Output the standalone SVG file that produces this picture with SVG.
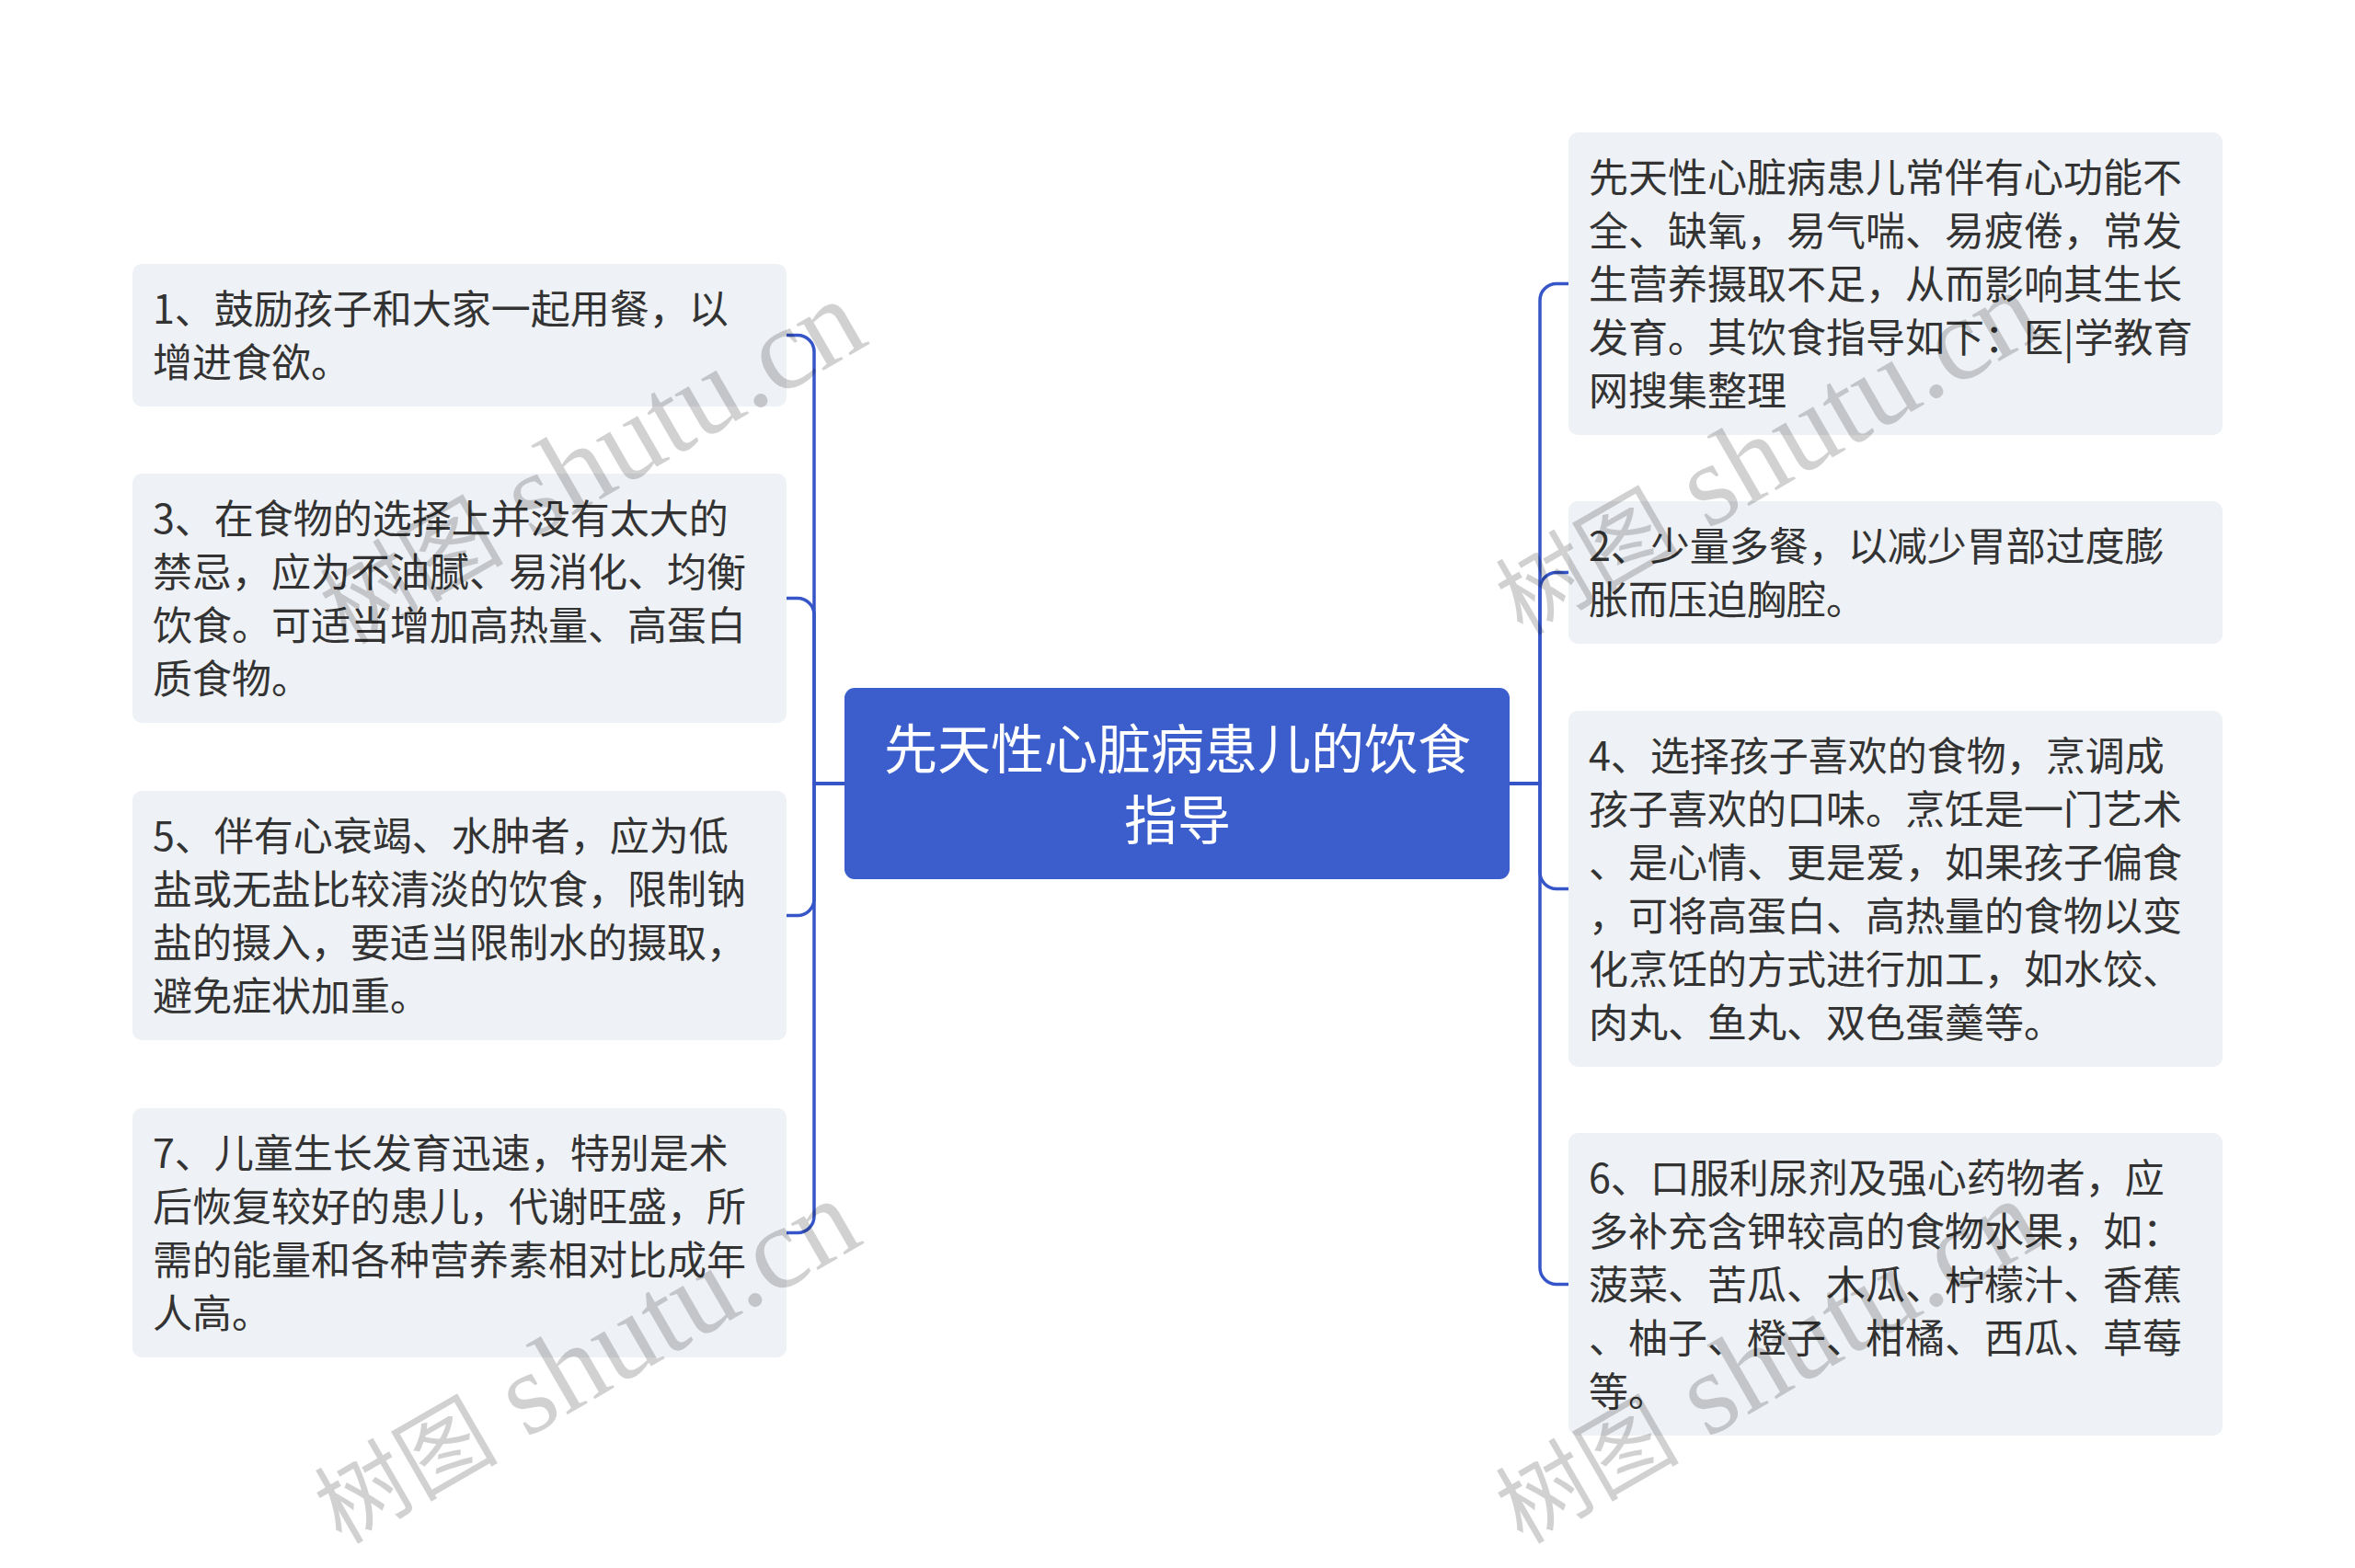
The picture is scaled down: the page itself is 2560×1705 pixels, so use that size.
<svg xmlns="http://www.w3.org/2000/svg" width="2560" height="1705" viewBox="0 0 2560 1705">
<style>
.bg{fill:#ffffff}
.node rect{fill:#eef1f5}
.node text{font-family:"Noto Sans CJK SC","Noto Sans",sans-serif;font-size:43px;fill:#333333}
.root rect{fill:#3b5ecc}
.root text{font-family:"Noto Sans CJK SC","Noto Sans",sans-serif;font-size:58px;fill:#ffffff;text-anchor:middle}
.conn path{fill:none;stroke:#3555c8;stroke-width:3.5}
.wm{font-family:"Liberation Serif","Noto Sans CJK SC",serif;font-size:127px;fill:#000000;fill-opacity:0.18}
.wm .cj{font-size:100px}
</style>
<rect class="bg" x="0" y="0" width="2560" height="1705"/>
<g id="connectors" class="conn">
<path d="M918,852 H885 V382.5 A18,18 0 0 0 867,364.5 H855"/>
<path d="M918,852 H885 V668.5 A18,18 0 0 0 867,650.5 H855"/>
<path d="M918,852 H885 V977.5 A18,18 0 0 1 867,995.5 H855"/>
<path d="M918,852 H885 V1322.5 A18,18 0 0 1 867,1340.5 H855"/>
<path d="M1641,852 H1674 V326.5 A18,18 0 0 1 1692,308.5 H1705"/>
<path d="M1641,852 H1674 V640.5 A18,18 0 0 1 1692,622.5 H1705"/>
<path d="M1641,852 H1674 V948.5 A18,18 0 0 0 1692,966.5 H1705"/>
<path d="M1641,852 H1674 V1378.5 A18,18 0 0 0 1692,1396.5 H1705"/>
</g>
<g id="root" class="root">
<rect x="918" y="748" width="723" height="208" rx="11"/>
<text x="1280" y="836">先天性心脏病患儿的饮食</text>
<text x="1280" y="913">指导</text>
</g>
<g id="node1" class="node">
<rect x="144" y="287" width="711" height="155" rx="10"/>
<text x="166" y="352">1、鼓励孩子和大家一起用餐，以</text>
<text x="166" y="410">增进食欲。</text>
</g>
<g id="node3" class="node">
<rect x="144" y="515" width="711" height="271" rx="10"/>
<text x="166" y="580">3、在食物的选择上并没有太大的</text>
<text x="166" y="638">禁忌，应为不油腻、易消化、均衡</text>
<text x="166" y="696">饮食。可适当增加高热量、高蛋白</text>
<text x="166" y="754">质食物。</text>
</g>
<g id="node5" class="node">
<rect x="144" y="860" width="711" height="271" rx="10"/>
<text x="166" y="925">5、伴有心衰竭、水肿者，应为低</text>
<text x="166" y="983">盐或无盐比较清淡的饮食，限制钠</text>
<text x="166" y="1041">盐的摄入，要适当限制水的摄取，</text>
<text x="166" y="1099">避免症状加重。</text>
</g>
<g id="node7" class="node">
<rect x="144" y="1205" width="711" height="271" rx="10"/>
<text x="166" y="1270">7、儿童生长发育迅速，特别是术</text>
<text x="166" y="1328">后恢复较好的患儿，代谢旺盛，所</text>
<text x="166" y="1386">需的能量和各种营养素相对比成年</text>
<text x="166" y="1444">人高。</text>
</g>
<g id="nodeIntro" class="node">
<rect x="1705" y="144" width="711" height="329" rx="10"/>
<text x="1727" y="209">先天性心脏病患儿常伴有心功能不</text>
<text x="1727" y="267">全、缺氧，易气喘、易疲倦，常发</text>
<text x="1727" y="325">生营养摄取不足，从而影响其生长</text>
<text x="1727" y="383">发育。其饮食指导如下：医|学教育</text>
<text x="1727" y="441">网搜集整理</text>
</g>
<g id="node2" class="node">
<rect x="1705" y="545" width="711" height="155" rx="10"/>
<text x="1727" y="610">2、少量多餐，以减少胃部过度膨</text>
<text x="1727" y="668">胀而压迫胸腔。</text>
</g>
<g id="node4" class="node">
<rect x="1705" y="773" width="711" height="387" rx="10"/>
<text x="1727" y="838">4、选择孩子喜欢的食物，烹调成</text>
<text x="1727" y="896">孩子喜欢的口味。烹饪是一门艺术</text>
<text x="1727" y="954">、是心情、更是爱，如果孩子偏食</text>
<text x="1727" y="1012">，可将高蛋白、高热量的食物以变</text>
<text x="1727" y="1070">化烹饪的方式进行加工，如水饺、</text>
<text x="1727" y="1128">肉丸、鱼丸、双色蛋羹等。</text>
</g>
<g id="node6" class="node">
<rect x="1705" y="1232" width="711" height="329" rx="10"/>
<text x="1727" y="1297">6、口服利尿剂及强心药物者，应</text>
<text x="1727" y="1355">多补充含钾较高的食物水果，如：</text>
<text x="1727" y="1413">菠菜、苦瓜、木瓜、柠檬汁、香蕉</text>
<text x="1727" y="1471">、柚子、橙子、柑橘、西瓜、草莓</text>
<text x="1727" y="1529">等。</text>
</g>
<g id="watermarks">
<text class="wm" transform="translate(377,702) rotate(-30)"><tspan class="cj">树图</tspan> shutu.cn</text>
<text class="wm" transform="translate(371,1680) rotate(-30)"><tspan class="cj">树图</tspan> shutu.cn</text>
<text class="wm" transform="translate(1655,692) rotate(-30)"><tspan class="cj">树图</tspan> shutu.cn</text>
<text class="wm" transform="translate(1655,1680) rotate(-30)"><tspan class="cj">树图</tspan> shutu.cn</text>
</g>
</svg>
